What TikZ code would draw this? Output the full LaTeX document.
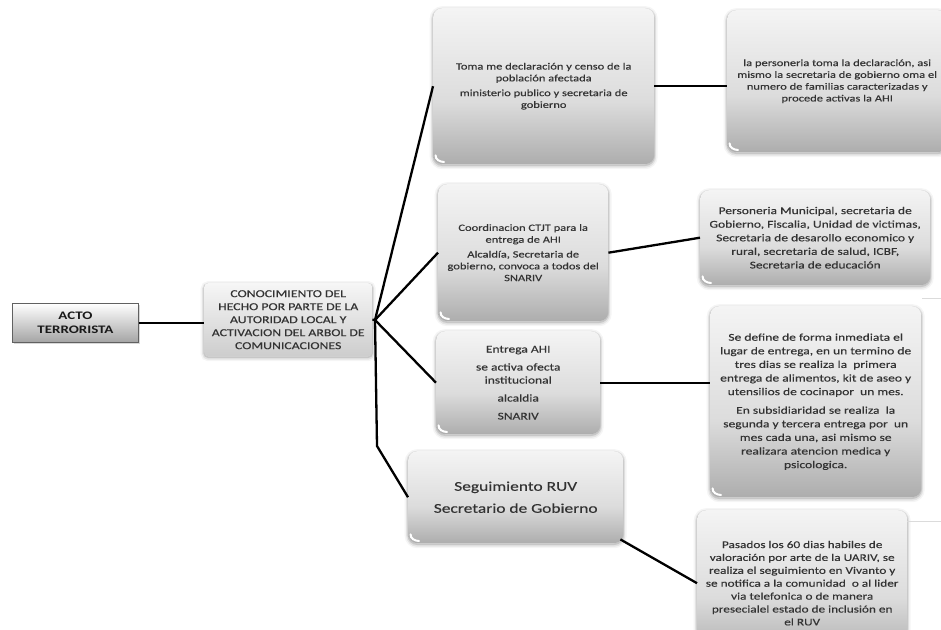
\documentclass[tikz,border=0pt]{standalone}
\usepackage{fontspec}
\setmainfont{Carlito}[FakeStretch=1.3, UprightFeatures={FakeBold=0.35}]
\usetikzlibrary{shadows}
\definecolor{txt}{HTML}{333333}
\definecolor{shT}{HTML}{F4F4F4}
\definecolor{shM}{HTML}{DCDCDC}
\definecolor{shB}{HTML}{ADADAD}
\definecolor{cnT}{HTML}{F6F6F6}
\definecolor{cnB}{HTML}{CDCDCD}
\definecolor{hdT}{HTML}{FFFFFF}
\definecolor{hdB}{HTML}{A4A4A4}
% vertical fills: first stop is the bottom of the box
\pgfdeclareverticalshading{boxshade}{100bp}{color(0bp)=(shB); color(25bp)=(shB); color(45bp)=(shM); color(75bp)=(shT); color(100bp)=(shT)}
\pgfdeclareverticalshading{conshade}{100bp}{color(0bp)=(cnB); color(25bp)=(cnB); color(75bp)=(cnT); color(100bp)=(cnT)}
\pgfdeclareverticalshading{headshade}{100bp}{color(0bp)=(hdB); color(25bp)=(hdB); color(75bp)=(hdT); color(100bp)=(hdT)}
% white highlight in the lower left corner of a rounded box
\newcommand\glint[1]{%
  \draw[white, line width=2pt, line cap=round]
    ([xshift=2.6pt,yshift=9pt]#1.south west) to[out=-95,in=178]
    ([xshift=11pt,yshift=2.4pt]#1.south west);}
\begin{document}
\begin{tikzpicture}[x=1pt,y=-1pt,
  glow/.style={
    preaction={draw=black, line width=7pt, opacity=0.04, transform canvas={yshift=-1.5pt}},
    preaction={draw=black, line width=4pt, opacity=0.07, transform canvas={yshift=-1.5pt}},
    preaction={draw=black, line width=1.6pt, opacity=0.12, transform canvas={yshift=-1pt}}},
  pbox/.style={glow, rounded corners=9pt, shading=boxshade, draw=none,
    inner sep=2pt, align=center, text=txt, anchor=north west},
  conbox/.style={glow, rounded corners=4pt, shading=conshade, draw=none,
    inner sep=1pt, align=center, text=txt, anchor=north west},
  headbox/.style={shading=headshade, draw=black!62, line width=0.9pt,
    drop shadow={shadow xshift=2pt, shadow yshift=-2pt, opacity=0.3},
    inner sep=1pt, align=center, text=black!90, anchor=north west},
  link/.style={draw=black, line width=2.3pt},
  small/.style={font=\fontsize{9.6}{11.8}\selectfont},
  mid/.style={font=\fontsize{10.4}{13.6}\selectfont}]

\useasboundingbox (0,0) rectangle (941,629);
\fill[white] (0,0) rectangle (941,629);

% root and first level
\node[headbox, minimum width=126pt, minimum height=39pt,
  font=\fontsize{11.5}{13.5}\selectfont\bfseries] (acto) at (12,303) {ACTO\\TERRORISTA};
\node[conbox, minimum width=168pt, minimum height=73pt,
  font=\fontsize{10.6}{13}\selectfont] (conoc) at (204,283)
  {CONOCIMIENTO DEL\\HECHO POR PARTE DE LA\\AUTORIDAD LOCAL Y\\ACTIVACION DEL ARBOL DE\\COMUNICACIONES};

% middle column
\node[pbox, small, minimum width=221pt, minimum height=156pt] (m1) at (433,8)
  {Toma me declaración y censo de la\\población afectada\\[3pt]ministerio publico y secretaria de\\gobierno};
\node[pbox, small, minimum width=170pt, minimum height=137pt] (m2) at (438,184)
  {Coordinacion CTJT para la\\entrega de AHI\\[3pt]Alcaldía, Secretaria de\\gobierno, convoca a todos del\\SNARIV};
\node[pbox, font=\fontsize{10.4}{13}\selectfont, minimum width=164pt, minimum height=103pt] (m3) at (436,331)
  {Entrega AHI\\[5pt]se activa ofecta\\institucional\\[5pt]alcaldia\\[5pt]SNARIV};
\node[pbox, font=\fontsize{13.4}{17}\selectfont, minimum width=215pt, minimum height=92pt] (m4) at (408,451)
  {Seguimiento RUV\\[5pt]Secretario de Gobierno};

% right column
\node[pbox, small, minimum width=220pt, minimum height=142pt] (r1) at (727,10)
  {la personeria toma la declaración, asi\\mismo la secretaria de gobierno oma el\\numero de familias caracterizadas y\\procede activas la AHI};
\node[pbox, mid, minimum width=230pt, minimum height=95pt] (r2) at (700,190)
  {Personeria Municipal, secretaria de\\Gobierno, Fiscalia, Unidad de victimas,\\Secretaria de desarollo economico y\\rural, secretaria de salud, ICBF,\\Secretaria de educación};
\node[pbox, mid, minimum width=211pt, minimum height=191pt] (r3) at (710,306)
  {Se define de forma inmediata el\\lugar de entrega, en un termino de\\tres dias se realiza la\ \ primera\\entrega de alimentos, kit de aseo y\\utensilios de cocinapor\ \ un mes.\\[5pt]En subsidiaridad se realiza\ \ la\\segunda y tercera entrega por\ \ un\\mes cada una, asi mismo se\\realizara atencion medica y\\psicologica.};
\node[pbox, font=\fontsize{10.2}{12.9}\selectfont, minimum width=210pt, minimum height=146pt] (r4) at (697,510)
  {Pasados los 60 dias habiles de\\valoración por arte de la UARIV, se\\realiza el seguimiento en Vivanto y\\se notifica a la comunidad\ \ o al lider\\via telefonica o de manera\\presecialel estado de inclusión en\\el RUV};

\foreach \b in {m1,m2,m3,m4,r1,r2,r3,r4} {\glint{\b}}

% faint edges at the right border
\draw[black!14, line width=0.8pt] (922,298) -- (941,298);
\draw[black!14, line width=0.8pt] (907,521) -- (941,521);

% connectors
\coordinate (fan) at (375,320);
\coordinate (knee) at (377,446);
\draw[link] (acto.east) -- (acto.east -| conoc.west);
\draw[link] (conoc.east) -- (fan);
\draw[link] (fan) -- (m1.west);
\draw[link] (fan) -- (m2.west);
\draw[link] (fan) -- (m3.west);
\draw[link] (fan) -- (knee) -- (m4.west);
\draw[link] (m1.east) -- (m1.east -| r1.west);
\draw[link] (m2.east) -- (r2.west);
\draw[link] (m3.east) -- (m3.east -| r3.west);
\draw[link] ([xshift=-3pt,yshift=4pt]m4.south east) -- (r4.west);
\end{tikzpicture}
\end{document}
